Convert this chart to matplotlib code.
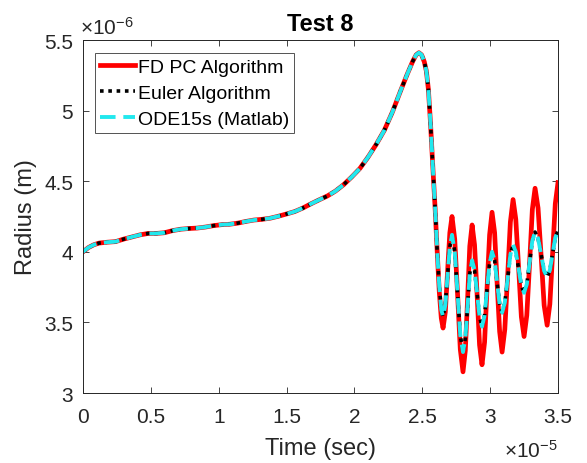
import matplotlib.pyplot as plt

plt.rcParams['font.family'] = ['Liberation Sans', 'DejaVu Sans']
plt.rcParams['mathtext.fontset'] = 'custom'
plt.rcParams['mathtext.rm'] = 'Liberation Sans'
plt.rcParams['mathtext.it'] = 'Liberation Sans'

# time in units of 1e-5 s, radius in units of 1e-6 m
# part where all three solvers agree
t_common = [0.00, 0.04, 0.08, 0.12, 0.18, 0.24, 0.30, 0.36, 0.42, 0.48, 0.54, 0.60,
            0.66, 0.72, 0.78, 0.84, 0.90, 0.96, 1.02, 1.08, 1.14, 1.20, 1.26, 1.32,
            1.38, 1.44, 1.50, 1.56, 1.62, 1.68, 1.74, 1.80, 1.86, 1.92, 1.98, 2.04,
            2.10, 2.16, 2.22, 2.28, 2.34, 2.39, 2.43, 2.455, 2.475, 2.495, 2.515, 2.53,
            2.545, 2.56, 2.58, 2.595, 2.61]
r_common = [4.000, 4.030, 4.050, 4.062, 4.068, 4.072, 4.090, 4.105, 4.120, 4.130, 4.130, 4.135,
            4.150, 4.160, 4.165, 4.168, 4.175, 4.185, 4.192, 4.195, 4.203, 4.215, 4.225, 4.230,
            4.238, 4.252, 4.268, 4.285, 4.310, 4.340, 4.368, 4.395, 4.430, 4.475, 4.530, 4.590,
            4.670, 4.760, 4.860, 4.990, 5.140, 5.260, 5.350, 5.395, 5.410, 5.395, 5.345, 5.28,
            5.15, 4.92, 4.56, 4.30, 4.00]

# after the collapse the solutions split
t_osc = [2.625, 2.64, 2.653, 2.67, 2.686, 2.703, 2.719, 2.739, 2.76, 2.78, 2.80, 2.817,
         2.834, 2.85, 2.867, 2.885, 2.904, 2.922, 2.94, 2.959, 2.977, 2.996, 3.014, 3.033,
         3.051, 3.07, 3.088, 3.108, 3.129, 3.149, 3.169, 3.189, 3.21, 3.23, 3.25, 3.27,
         3.291, 3.311, 3.331, 3.353, 3.376, 3.398, 3.42, 3.44, 3.46, 3.48, 3.50]
r_fd = [3.72, 3.53, 3.46, 3.575, 3.855, 4.135, 4.25, 4.09, 3.70, 3.31, 3.15, 3.30,
        3.67, 4.04, 4.19, 4.05, 3.695, 3.34, 3.20, 3.36, 3.74, 4.12, 4.28, 4.135,
        3.785, 3.435, 3.29, 3.45, 3.83, 4.21, 4.37, 4.23, 3.885, 3.54, 3.40, 3.55,
        3.925, 4.30, 4.45, 4.31, 3.965, 3.62, 3.48, 3.63, 3.985, 4.34, 4.49]
r_ode = [3.76, 3.59, 3.54, 3.625, 3.83, 4.035, 4.12, 4.00, 3.705, 3.41, 3.29, 3.385,
         3.615, 3.845, 3.94, 3.87, 3.705, 3.54, 3.47, 3.55, 3.735, 3.92, 4.00, 3.94,
         3.785, 3.63, 3.57, 3.64, 3.81, 3.98, 4.05, 4.00, 3.88, 3.76, 3.71, 3.77,
         3.925, 4.08, 4.14, 4.095, 3.98, 3.865, 3.82, 3.87, 3.985, 4.10, 4.15]
# Euler result sits on top of the ODE15s curve
r_euler = r_ode

fig = plt.figure(figsize=(5.87, 4.64), dpi=100)
ax = fig.add_axes([83 / 587, 70 / 464, 475 / 587, 353 / 464])

ax.plot(t_common + t_osc, r_common + r_fd, color='#ff0000', lw=3.4, label='FD PC Algorithm')
ax.plot(t_common + t_osc, r_common + r_euler, color='black', lw=2.6, ls=(0, (1, 1.3)),
        label='Euler Algorithm')
ax.plot(t_common + t_osc, r_common + r_ode, color='#22e8ee', lw=2.8, ls=(0, (4, 2)),
        label='ODE15s (Matlab)')

ax.set_xlim(0, 3.5)
ax.set_ylim(3, 5.5)
ax.set_xticks([0, 0.5, 1, 1.5, 2, 2.5, 3, 3.5])
ax.set_xticklabels(['0', '0.5', '1', '1.5', '2', '2.5', '3', '3.5'])
ax.set_yticks([3, 3.5, 4, 4.5, 5, 5.5])
ax.set_yticklabels(['3', '3.5', '4', '4.5', '5', '5.5'])
ax.tick_params(direction='in', top=True, right=True, length=4, width=0.6,
               labelsize=15, colors='#262626')
ax.tick_params(axis='x', pad=10)
ax.tick_params(axis='y', pad=7)
for s in ax.spines.values():
    s.set_color('#262626')
    s.set_linewidth(0.7)

ax.set_xlabel('Time (sec)', fontsize=17, color='#262626', labelpad=8)
ax.set_ylabel('Radius (m)', fontsize=17, color='#262626', labelpad=5)
ax.set_title('Test 8', fontsize=17, fontweight='bold', pad=7)

ax.text(-0.006, 1.005, r'$\times10^{-6}$', transform=ax.transAxes, fontsize=15,
        color='#262626', va='bottom', ha='left')
ax.text(1.0, -0.13, r'$\times10^{-5}$', transform=ax.transAxes, fontsize=15,
        color='#262626', va='top', ha='right')

leg = ax.legend(loc='upper left', fontsize=14, frameon=True, fancybox=False,
                handlelength=1.8, borderpad=0.25, labelspacing=0.45,
                handletextpad=0.15, borderaxespad=0, bbox_to_anchor=(0.025, 0.963))
leg.get_frame().set_edgecolor('#262626')
leg.get_frame().set_linewidth(0.7)

fig.savefig('out.png', dpi=100)
